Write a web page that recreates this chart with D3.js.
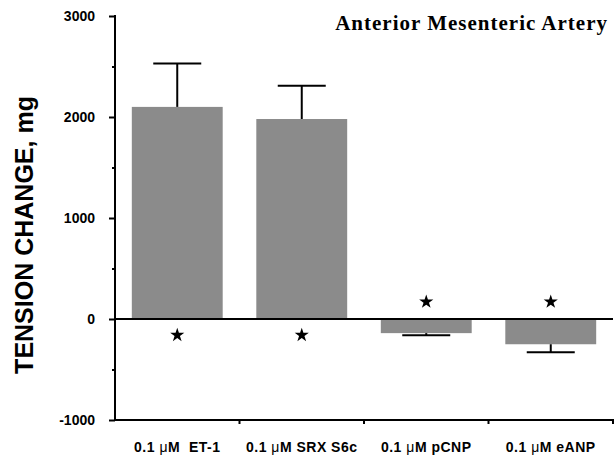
<!DOCTYPE html>
<html>
<head>
<meta charset="utf-8">
<script src="https://cdn.jsdelivr.net/npm/d3@7"></script>
<style type="text/css">
body { margin: 0; background: #fff; }
.tick text { font-family: "Liberation Sans", Arial, sans-serif; font-weight: bold; font-size: 14px; fill: #000; }
.xlab { font-family: "Liberation Sans", Arial, sans-serif; font-weight: bold; font-size: 14px; letter-spacing: 0.5px; white-space: pre; }
.mu { font-weight: normal; }
</style>
</head>
<body>
<script type="text/javascript">
var width = 616,
    height = 457;

// data
var agents = ['ET-1', 'SRX S6c', 'pCNP', 'eANP'];
var labelPrefix = ['0.1 ', '0.1 ', '0.1 ', '0.1 '];
var labelSuffix = ['M  ET-1', 'M SRX S6c', 'M pCNP', 'M eANP'];
var tension = [2100, 1980, -140, -250];
var sem = [430, 330, 20, 80];
var starAt = [-160, -160, 170, 170];
var majorTicks = [-1000, 0, 1000, 2000, 3000];
var minorTicks = [-500, 500, 1500, 2500];

var plotLeft = 115, plotRight = 613, plotTop = 16, plotBottom = 420;

var svg = d3.select('body')
    .append('svg')
        .attr('width', width)
        .attr('height', height);

var x = d3.scaleBand()
    .domain(agents)
    .range([plotLeft, plotRight])
    .paddingInner(0.27)
    .paddingOuter(0.135);

var y = d3.scaleLinear()
    .domain([-1000, 3000])
    .range([plotBottom, plotTop]);

// bars
svg.selectAll('rect.bar')
    .data(agents)
    .enter()
    .append('rect')
        .attr('class', 'bar')
        .attr('x', function(d){ return x(d); })
        .attr('width', x.bandwidth())
        .attr('y', function(d, i){ return y(Math.max(0, tension[i])); })
        .attr('height', function(d, i){ return Math.abs(y(tension[i]) - y(0)); })
        .attr('fill', '#8b8b8b');

// error bars, pointing away from zero
var capHalf = 24;
var err = svg.append('g').attr('stroke', '#000').attr('stroke-width', 2);
agents.forEach(function(d, i){
    var cx = x(d) + x.bandwidth() / 2;
    var tip = tension[i] + (tension[i] >= 0 ? sem[i] : -sem[i]);
    err.append('line')
        .attr('x1', cx).attr('x2', cx)
        .attr('y1', y(tension[i])).attr('y2', y(tip));
    err.append('line')
        .attr('x1', cx - capHalf).attr('x2', cx + capHalf)
        .attr('y1', y(tip)).attr('y2', y(tip));
});

// zero line
svg.append('line')
    .attr('x1', plotLeft).attr('x2', plotRight)
    .attr('y1', y(0)).attr('y2', y(0))
    .attr('stroke', '#000').attr('stroke-width', 2);

// y axis
var yAxis = svg.append('g')
    .attr('transform', 'translate(' + plotLeft + ',0)')
    .call(d3.axisLeft(y).tickValues(majorTicks).tickSize(6).tickPadding(14).tickFormat(function(d){ return String(d); }));
yAxis.select('.domain').attr('stroke-width', 2).attr('d', 'M0,' + (y(3000) - 1) + 'V' + (y(-1000) + 1));
yAxis.selectAll('.tick line').attr('stroke-width', 2);

svg.append('g')
    .attr('transform', 'translate(' + plotLeft + ',0)')
    .call(d3.axisLeft(y).tickValues(minorTicks).tickSize(3).tickFormat(''))
    .call(function(g){ g.select('.domain').remove(); })
    .selectAll('.tick line').attr('stroke-width', 2);

// x axis with ticks at category boundaries
svg.append('line')
    .attr('x1', plotLeft).attr('x2', plotRight + 1)
    .attr('y1', plotBottom).attr('y2', plotBottom)
    .attr('stroke', '#000').attr('stroke-width', 2);
svg.selectAll('line.xtick')
    .data(agents)
    .enter()
    .append('line')
        .attr('class', 'xtick')
        .attr('x1', function(d){ return x(d) + x.bandwidth() + x.step() * x.paddingInner() / 2; })
        .attr('x2', function(d){ return x(d) + x.bandwidth() + x.step() * x.paddingInner() / 2; })
        .attr('y1', plotBottom).attr('y2', plotBottom + 4)
        .attr('stroke', '#000').attr('stroke-width', 2);

// category labels
var lab = svg.selectAll('text.xlab')
    .data(agents)
    .enter()
    .append('text')
        .attr('class', 'xlab')
        .attr('x', function(d){ return x(d) + x.bandwidth() / 2; })
        .attr('y', 452)
        .attr('text-anchor', 'middle');
lab.append('tspan').text(function(d, i){ return labelPrefix[i]; });
lab.append('tspan').attr('class', 'mu').text('\u03bc');
lab.append('tspan').text(function(d, i){ return labelSuffix[i]; });

// significance stars
svg.selectAll('path.star')
    .data(agents)
    .enter()
    .append('path')
        .attr('class', 'star')
        .attr('d', d3.symbol().type(d3.symbolStar).size(62))
        .attr('transform', function(d, i){
            return 'translate(' + (x(d) + x.bandwidth() / 2) + ',' + y(starAt[i]) + ')';
        })
        .attr('fill', '#000');

// axis title
svg.append('text')
    .attr('transform', 'translate(33,' + ((plotTop + plotBottom) / 2 + 17) + ') rotate(-90)')
    .attr('text-anchor', 'middle')
    .style('font-family', '"Liberation Sans", Arial, sans-serif')
    .style('font-weight', 'bold')
    .style('font-size', '25px')
    .text('TENSION CHANGE, mg');

// panel title
svg.append('text')
    .attr('x', 608)
    .attr('y', 30)
    .attr('text-anchor', 'end')
    .style('font-family', '"Liberation Serif", "Times New Roman", serif')
    .style('font-weight', 'bold')
    .style('font-size', '21px')
    .style('letter-spacing', '1px')
    .text('Anterior Mesenteric Artery');
</script>
</body>
</html>
